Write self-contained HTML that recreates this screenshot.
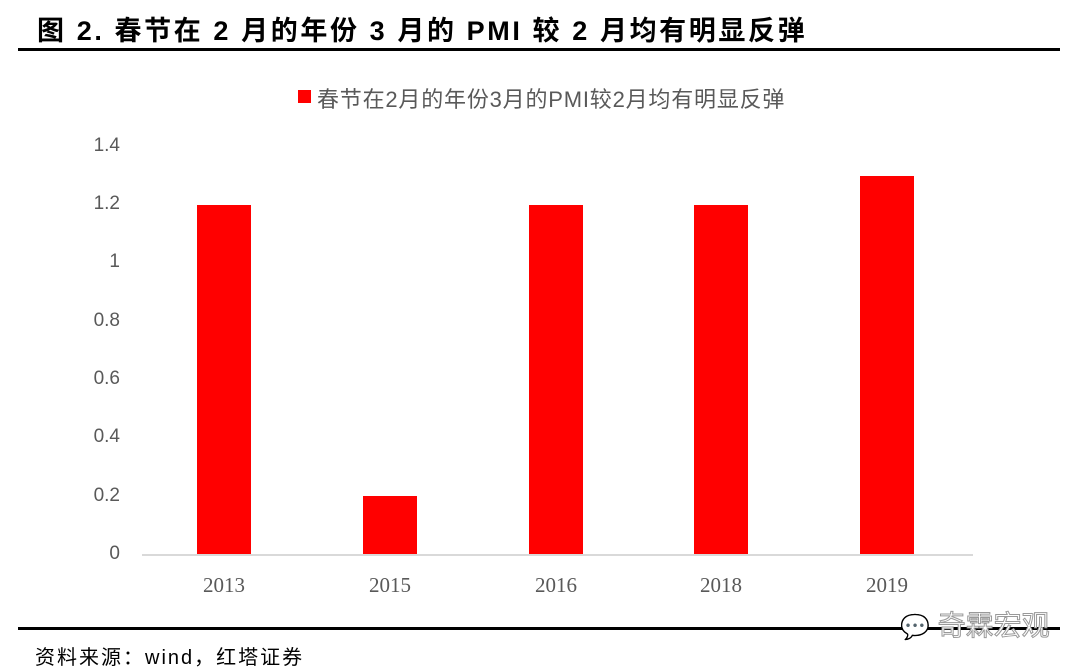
<!DOCTYPE html>
<html><head><meta charset="utf-8"><style>
html,body{margin:0;padding:0;background:#fff;}
body{width:1080px;height:670px;position:relative;overflow:hidden;font-family:"Liberation Sans","Noto Sans CJK SC",sans-serif;}
.abs{position:absolute;white-space:nowrap;}
.title{left:37px;top:9px;font-size:27px;font-weight:bold;color:#000;letter-spacing:2.6px;}
.rule{position:absolute;left:18px;width:1042px;height:3px;background:#000;}
.bar{position:absolute;background:#ff0000;width:54px;}
.yl{position:absolute;width:60px;left:60px;text-align:right;font-size:19px;color:#595959;}
.xl{position:absolute;width:80px;text-align:center;font-size:21px;color:#595959;font-family:"Liberation Serif",serif;top:573px;}
</style></head><body>
<div class="abs title">图 2. 春节在 2 月的年份 3 月的 PMI 较 2 月均有明显反弹</div>
<div class="rule" style="top:48px"></div>
<div class="abs" style="left:298px;top:90px;width:13px;height:13px;background:#ff0000"></div>
<div class="abs" style="left:317px;top:82px;font-size:22px;color:#595959;letter-spacing:0.8px;">春节在2月的年份3月的PMI较2月均有明显反弹</div>

<div class="yl" style="top:135px">1.4</div>
<div class="yl" style="top:193px">1.2</div>
<div class="yl" style="top:251px">1</div>
<div class="yl" style="top:310px">0.8</div>
<div class="yl" style="top:368px">0.6</div>
<div class="yl" style="top:426px">0.4</div>
<div class="yl" style="top:485px">0.2</div>
<div class="yl" style="top:543px">0</div>

<div class="bar" style="left:197px;top:205px;height:350px"></div>
<div class="bar" style="left:363px;top:496px;height:59px"></div>
<div class="bar" style="left:529px;top:205px;height:350px"></div>
<div class="bar" style="left:694px;top:205px;height:350px"></div>
<div class="bar" style="left:860px;top:176px;height:379px"></div>
<div class="abs" style="left:142px;top:554px;width:831px;height:2px;background:#d9d9d9"></div>

<div class="xl" style="left:184px">2013</div>
<div class="xl" style="left:350px">2015</div>
<div class="xl" style="left:516px">2016</div>
<div class="xl" style="left:681px">2018</div>
<div class="xl" style="left:847px">2019</div>

<div class="rule" style="top:627px"></div>
<div class="abs" style="left:35px;top:641px;font-size:20px;color:#000;letter-spacing:2px;">资料来源：wind，红塔证券</div>
<div class="abs" style="left:900px;top:604px;font-size:28px;color:#fff;-webkit-text-stroke:1px #999;"><span style="font-size:24px">💬</span> 奇霖宏观</div>
</body></html>
